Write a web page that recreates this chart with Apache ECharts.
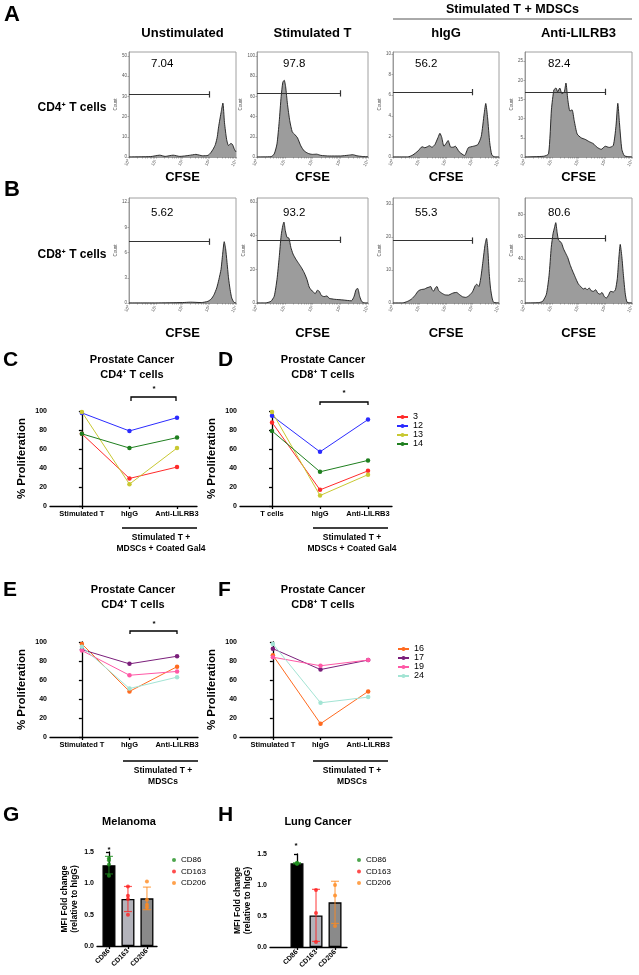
<!DOCTYPE html>
<html>
<head>
<meta charset="utf-8">
<script src="https://cdn.jsdelivr.net/npm/echarts@6/dist/echarts.min.js"></script>
<style>
  html, body { margin: 0; background: #fff; }
  #chart { width: 639px; height: 975px; }
</style>
</head>
<body>
<div id="chart"></div>
<script>
// ---- flow histograms: [log10(CFSE), count] ----
const cd4Unstim = [[0,0],[0.8,0.2],[1.15,0.9],[1.35,0.3],[1.65,0.9],[1.9,0.3],[2.25,0.8],[2.5,1.3],[2.75,0.6],[2.95,0.8],[3.05,2],[3.15,4],[3.23,6.2],[3.3,10],[3.35,15],[3.45,22.6],[3.51,26.7],[3.57,17],[3.65,8.7],[3.72,5.7],[3.81,6.7],[3.87,6.2],[3.94,3.8],[4,2.5]];
const cd4Stim = [[0,0],[0.5,0.3],[0.62,3],[0.72,13],[0.8,35],[0.87,60],[0.93,74],[0.98,76],[1.03,70],[1.1,52],[1.18,36],[1.27,25],[1.37,22],[1.46,19],[1.58,11],[1.7,6],[1.85,3.5],[2.0,2.6],[2.15,2.8],[2.3,1.6],[2.6,1],[3.0,1],[3.3,1.8],[3.45,2.3],[3.6,1.2],[3.8,0.5],[4,0.2]];
const cd4Higg = [[0,0],[0.55,0],[0.75,0.2],[0.95,0.6],[1.1,1.0],[1.2,0.9],[1.3,1.0],[1.37,1.1],[1.47,0.95],[1.58,1.2],[1.7,1.9],[1.77,2.3],[1.84,1.9],[1.92,1.05],[2.0,1.3],[2.08,1.6],[2.18,0.95],[2.27,0.95],[2.35,1.05],[2.5,0.5],[2.7,0.15],[2.84,0.9],[3.04,1.05],[3.2,1.2],[3.33,2.0],[3.44,4.2],[3.5,5.2],[3.57,3.8],[3.65,1.4],[3.73,0.2],[3.85,0],[4,0]];
const cd4Anti = [[0,0],[0.7,0.2],[0.88,0.8],[0.99,12.5],[1.08,17.5],[1.16,18],[1.22,17],[1.3,18],[1.38,16.5],[1.47,17],[1.53,19.3],[1.6,15],[1.68,12],[1.76,12.3],[1.84,9.5],[1.95,6],[2.1,5],[2.25,4.6],[2.4,4],[2.55,3.5],[2.7,2.5],[2.85,2],[3.0,2.8],[3.15,2.5],[3.3,3],[3.4,8],[3.47,14],[3.53,9],[3.62,2],[3.72,0.3],[4,0]];
const cd8Unstim = [[0,0],[1,0],[2,0.05],[2.3,0.1],[2.7,0.05],[2.95,0.2],[3.08,0.5],[3.18,1.0],[3.28,1.8],[3.36,2.8],[3.44,4.0],[3.5,5.8],[3.56,7.3],[3.61,6.5],[3.66,5],[3.72,3],[3.78,1.6],[3.84,0.6],[3.92,0.1],[4,0]];
const cd8Stim = [[0,0],[0.3,0],[0.5,1],[0.62,4],[0.72,14],[0.8,27],[0.87,40],[0.93,46],[0.97,48],[1.02,43],[1.08,39],[1.15,38.5],[1.22,33],[1.3,29],[1.4,26],[1.5,23.5],[1.6,21],[1.7,18],[1.8,14],[1.88,9.5],[1.95,7.8],[2.03,6.5],[2.1,5.6],[2.18,7.6],[2.25,6.8],[2.32,4.5],[2.42,3.8],[2.52,4.2],[2.6,2.8],[2.8,2.2],[3.1,1.8],[3.4,1.3],[3.5,4],[3.57,8],[3.63,8.6],[3.7,4],[3.78,0.8],[3.9,0],[4,0]];
const cd8Higg = [[0,0],[0.35,0],[0.55,0.5],[0.7,1.2],[0.83,2.3],[0.96,3.7],[1.08,4.1],[1.18,4.2],[1.28,4.6],[1.36,4.8],[1.42,5.0],[1.48,4.0],[1.53,3.6],[1.6,4.6],[1.66,5.0],[1.72,3.8],[1.8,3.2],[1.95,2.5],[2.1,2.4],[2.2,2.8],[2.3,3.1],[2.4,3.2],[2.5,2.6],[2.62,1.9],[2.75,1.7],[2.88,2.3],[3.0,3.4],[3.1,5.2],[3.16,5.7],[3.24,5.0],[3.32,8],[3.4,13],[3.47,17.5],[3.53,19.6],[3.58,16],[3.63,9],[3.68,4.5],[3.74,1.5],[3.8,0.2],[4,0]];
const cd8Anti = [[0,0],[0.5,0.3],[0.66,1.5],[0.8,8],[0.9,25],[0.98,50],[1.05,63],[1.1,68],[1.15,72.7],[1.2,64],[1.25,57],[1.3,56],[1.37,54],[1.44,49],[1.52,45],[1.6,41],[1.68,35],[1.76,30],[1.85,25],[1.92,21],[2.0,17],[2.08,15],[2.18,12.7],[2.25,13.5],[2.32,12],[2.4,13.6],[2.48,11],[2.56,10.6],[2.64,12],[2.72,9],[2.8,8],[2.88,9.5],[2.96,6],[3.04,4.5],[3.12,7],[3.2,10.6],[3.3,10],[3.38,12],[3.45,22],[3.5,38],[3.56,53],[3.62,42],[3.68,25],[3.75,8],[3.82,0.6],[4,0]];

const colTitles = ['Unstimulated', 'Stimulated T', 'hIgG', 'Anti-LILRB3'];
const cd4Pct = ['7.04', '97.8', '56.2', '82.4'];
const cd8Pct = ['5.62', '93.2', '55.3', '80.6'];
const cd4Gate = [31, 63, 6.3, 17];
const cd8Gate = [7.3, 37.5, 18.9, 58.5];
const cd4YMax = [52, 104, 10.2, 27.4];
const cd4YStep = [10, 20, 2, 5];
const cd8YMax = [12.5, 62.3, 31.8, 95];
const cd8YStep = [3, 20, 10, 20];
const logTicks = [0, 1, 2, 3, 4];

// ---- % proliferation ----
const catsStim = ['Stimulated T', 'hIgG', 'Anti-LILRB3'];
const catsTcell = ['T cells', 'hIgG', 'Anti-LILRB3'];
const gal4Donors = ['3', '12', '13', '14'];
const cd4Gal4 = [[76, 29, 41], [98, 79, 93], [99, 23, 61], [76, 61, 72]];
const cd8Gal4 = [[88, 17, 37], [95, 57, 91], [99, 11, 33], [79, 36, 48]];
const mdscDonors = ['16', '17', '19', '24'];
const cd4Mdsc = [[98, 48, 74], [92, 77, 85], [91, 65, 69], [95, 51, 63]];
const cd8Mdsc = [[86, 14, 48], [93, 71, 81], [84, 75, 81], [98, 36, 42]];

// ---- MFI fold change ----
const markers = ['CD86', 'CD163', 'CD206'];
const melMean = [1.29, 0.75, 0.76];
const melSd = [0.14, 0.20, 0.18];
const melPoints = [[1.40, 1.37, 1.30, 1.12], [0.95, 0.80, 0.75, 0.50], [1.03, 0.74, 0.66, 0.62]];
const lungMean = [1.35, 0.51, 0.72];
const lungSd = [0.01, 0.42, 0.34];
const lungPoints = [[1.36, 1.35, 1.34], [0.92, 0.55, 0.08], [1.00, 0.83, 0.34]];

// layout
const histX = [[129, 236], [257, 368], [393, 499], [525, 632]];
const pctOffset = [22, 26, 22, 23];
const cd4Y = [52, 157];
const cd8Y = [198, 303];
const FONT = '"Liberation Sans", Arial, "Noto Sans", sans-serif';
const gal4Colors = ['#ff2a2a', '#2b2bff', '#c8c832', '#1f7f1f'];
const mdscColors = ['#ff6a1f', '#7b1f7b', '#ff58a6', '#a3e4d4'];
const markerColors = ['#1f8f1f', '#ff2020', '#ff8a1f'];
const barFill = ['#000000', '#b3b3bb', '#8a8a8a'];

const sup = ['\u2070', '\u00b9', '\u00b2', '\u00b3', '\u2074'];
const minorLog = [];
for (let n = 0; n < 4; n++) for (let k = 1; k < 10; k++) minorLog.push(n + Math.log10(k));
minorLog.push(4);

const grid = [], xAxis = [], yAxis = [], series = [], graphic = [], legend = [];

function txt(x, y, text, size, weight, align) {
  graphic.push({
    type: 'text', silent: true,
    style: {
      x, y, text, fill: '#000',
      font: (weight || 'bold') + ' ' + size + 'px ' + FONT,
      textAlign: align || 'center', textVerticalAlign: 'middle'
    }
  });
}
function seg(points, w, color) {
  graphic.push({
    type: 'polyline', silent: true, shape: { points },
    style: { stroke: color || '#000', lineWidth: w || 1.3, fill: 'none' }
  });
}

function addHist(col, yr, data, gate, ymax, step) {
  const i = grid.length;
  const [x0, x1] = histX[col];
  grid.push({ left: x0, top: yr[0], width: x1 - x0, height: yr[1] - yr[0], show: true, borderColor: '#a0a0a0', borderWidth: 1 });
  const thin = { color: '#777', width: 0.6 };
  xAxis.push({
    gridIndex: i, type: 'value', min: 0, max: 4,
    axisLine: { onZero: false, lineStyle: thin },
    axisTick: { customValues: minorLog, length: 1.5, lineStyle: thin },
    axisLabel: { customValues: logTicks, formatter: v => '10' + sup[v], fontSize: 4.5, color: '#555', rotate: 60, margin: 3 },
    splitLine: { show: false }
  });
  yAxis.push({
    gridIndex: i, type: 'value', min: 0, max: ymax, interval: step,
    axisLine: { show: true, lineStyle: thin },
    axisTick: { show: true, length: 1.5, lineStyle: thin },
    axisLabel: { fontSize: 4.5, color: '#555', margin: 2, showMaxLabel: false },
    splitLine: { show: false },
    name: 'Count', nameLocation: 'middle', nameGap: 10,
    nameTextStyle: { fontSize: 4.5, color: '#555' }
  });
  const tk = ymax * 0.03;
  series.push({
    type: 'line', xAxisIndex: i, yAxisIndex: i, data, symbol: 'none', smooth: 0.2,
    lineStyle: { color: '#1a1a1a', width: 0.9 },
    areaStyle: { color: '#9c9c9c', opacity: 1 },
    markLine: {
      silent: true, symbol: ['none', 'none'], label: { show: false },
      lineStyle: { color: '#333', width: 1.2, type: 'solid' },
      data: [
        [{ coord: [0, gate] }, { coord: [3, gate] }],
        [{ coord: [3, gate - tk] }, { coord: [3, gate + tk] }]
      ]
    }
  });
}

function addLines(rect, xr, cats, rows, names, colors) {
  const i = grid.length;
  grid.push({ left: rect[0], top: rect[1], width: rect[2] - rect[0], height: rect[3] - rect[1] });
  const axisLine = { color: '#000', width: 1.3 };
  xAxis.push({
    gridIndex: i, type: 'value', min: xr[0], max: xr[1],
    axisLine: { onZero: false, lineStyle: axisLine },
    axisTick: { customValues: [0, 1, 2], length: 3, lineStyle: axisLine },
    axisLabel: { customValues: [0, 1, 2], formatter: v => cats[v], fontSize: 7.5, fontWeight: 'bold', color: '#000', margin: 4 },
    splitLine: { show: false }
  });
  yAxis.push({
    gridIndex: i, type: 'value', min: 0, max: 100, interval: 20,
    axisLine: { show: true, lineStyle: axisLine },
    axisTick: { show: true, length: 3, lineStyle: axisLine },
    axisLabel: { fontSize: 7, fontWeight: 'bold', color: '#000', margin: 3 },
    splitLine: { show: false },
    name: '% Proliferation', nameLocation: 'middle', nameGap: 22,
    nameTextStyle: { fontSize: 11.5, fontWeight: 'bold', color: '#000' }
  });
  rows.forEach((vals, k) => series.push({
    name: names[k], type: 'line', xAxisIndex: i, yAxisIndex: i,
    data: vals.map((v, j) => [j, v]), symbol: 'circle', symbolSize: 4.5,
    lineStyle: { color: colors[k], width: 1 }, itemStyle: { color: colors[k] }
  }));
}

function addBars(rect, xr, means, sds, points) {
  const i = grid.length;
  grid.push({ left: rect[0], top: rect[1], width: rect[2] - rect[0], height: rect[3] - rect[1] });
  const axisLine = { color: '#000', width: 1.3 };
  xAxis.push({
    gridIndex: i, type: 'value', min: xr[0], max: xr[1],
    axisLine: { onZero: false, lineStyle: axisLine },
    axisTick: { customValues: [0, 1, 2], length: 3, lineStyle: axisLine },
    axisLabel: { customValues: [0, 1, 2], formatter: v => markers[v], fontSize: 7, fontWeight: 'bold', color: '#000', rotate: 45, margin: 4 },
    splitLine: { show: false }
  });
  yAxis.push({
    gridIndex: i, type: 'value', min: 0, max: 1.5, interval: 0.5,
    axisLine: { show: true, lineStyle: axisLine },
    axisTick: { show: true, length: 3, lineStyle: axisLine },
    axisLabel: { fontSize: 7, fontWeight: 'bold', color: '#000', margin: 3, formatter: v => v.toFixed(1) },
    splitLine: { show: false },
    name: 'MFI Fold change\n(relative to hIgG)', nameLocation: 'middle', nameGap: 17,
    nameTextStyle: { fontSize: 8.5, fontWeight: 'bold', color: '#000', lineHeight: 10 }
  });
  series.push({
    type: 'bar', xAxisIndex: i, yAxisIndex: i, barWidth: 13,
    data: means.map((m, j) => ({ value: [j, m], itemStyle: { color: barFill[j] } })),
    itemStyle: { borderColor: '#000', borderWidth: 1.3 }
  });
  series.push({
    type: 'custom', xAxisIndex: i, yAxisIndex: i, z: 5,
    data: means.map((m, j) => [j, m - sds[j], m + sds[j]]),
    renderItem: (params, api) => {
      const lo = api.coord([api.value(0), api.value(1)]);
      const hi = api.coord([api.value(0), api.value(2)]);
      const st = { stroke: markerColors[params.dataIndex], lineWidth: 1.2, opacity: 0.75 };
      return {
        type: 'group', children: [
          { type: 'line', shape: { x1: lo[0], y1: lo[1], x2: hi[0], y2: hi[1] }, style: st },
          { type: 'line', shape: { x1: hi[0] - 4, y1: hi[1], x2: hi[0] + 4, y2: hi[1] }, style: st },
          { type: 'line', shape: { x1: lo[0] - 4, y1: lo[1], x2: lo[0] + 4, y2: lo[1] }, style: st }
        ]
      };
    }
  });
  points.forEach((pts, j) => series.push({
    name: markers[j], type: 'scatter', xAxisIndex: i, yAxisIndex: i, z: 6,
    data: pts.map(v => [j, v]), symbolSize: 4, itemStyle: { color: markerColors[j] }
  }));
}

// ---- A / B ----
for (let c = 0; c < 4; c++) {
  addHist(c, cd4Y, [cd4Unstim, cd4Stim, cd4Higg, cd4Anti][c], cd4Gate[c], cd4YMax[c], cd4YStep[c]);
  addHist(c, cd8Y, [cd8Unstim, cd8Stim, cd8Higg, cd8Anti][c], cd8Gate[c], cd8YMax[c], cd8YStep[c]);
  const cx = (histX[c][0] + histX[c][1]) / 2;
  txt(cx, 33, colTitles[c], 13);
  txt(cx, 177, 'CFSE', 13);
  txt(cx, 333, 'CFSE', 13);
  txt(histX[c][0] + pctOffset[c], cd4Y[0] + 12, cd4Pct[c], 11.5, 'normal', 'left');
  txt(histX[c][0] + pctOffset[c], cd8Y[0] + 15, cd8Pct[c], 11.5, 'normal', 'left');
}
txt(4, 15, 'A', 22, 'bold', 'left');
txt(4, 190, 'B', 22, 'bold', 'left');
txt((histX[2][0] + histX[3][1]) / 2, 10, 'Stimulated T + MDSCs', 12.5);
seg([[histX[2][0], 19], [histX[3][1], 19]], 1, '#555');
txt(72, 108, 'CD4\u207a T cells', 12);
txt(72, 255, 'CD8\u207a T cells', 12);

// ---- C / D ----
addLines([50, 411, 197, 506], [-0.67, 2.42], catsStim, cd4Gal4, gal4Donors, gal4Colors);
addLines([240, 411, 392, 506], [-0.667, 2.5], catsTcell, cd8Gal4, gal4Donors, gal4Colors);
txt(3, 360, 'C', 21, 'bold', 'left');
txt(218, 360, 'D', 21, 'bold', 'left');
txt(132, 360, 'Prostate Cancer', 11);
txt(132, 375, 'CD4\u207a T cells', 11);
txt(323, 360, 'Prostate Cancer', 11);
txt(323, 375, 'CD8\u207a T cells', 11);
seg([[131, 401], [131, 397], [176, 397], [176, 401]]);
txt(154, 389, '*', 8);
seg([[320, 405], [320, 402], [368, 402], [368, 405]]);
txt(344, 393, '*', 8);
seg([[122, 528], [197, 528]], 1.5);
txt(161, 538, 'Stimulated T +', 8.5);
txt(161, 549, 'MDSCs + Coated Gal4', 8.5);
seg([[313, 528], [388, 528]], 1.5);
txt(352, 538, 'Stimulated T +', 8.5);
txt(352, 549, 'MDSCs + Coated Gal4', 8.5);
legend.push({
  data: gal4Donors, orient: 'vertical', left: 391, top: 407.5,
  itemWidth: 11, itemHeight: 5, itemGap: 0, selectedMode: false,
  textStyle: { fontSize: 9, color: '#000' }
});

// ---- E / F ----
addLines([50, 642, 198, 737], [-0.67, 2.44], catsStim, cd4Mdsc, mdscDonors, mdscColors);
addLines([240, 642, 392, 737], [-0.69, 2.5], catsStim, cd8Mdsc, mdscDonors, mdscColors);
txt(3, 590, 'E', 21, 'bold', 'left');
txt(218, 590, 'F', 21, 'bold', 'left');
txt(133, 590, 'Prostate Cancer', 11);
txt(133, 605, 'CD4\u207a T cells', 11);
txt(323, 590, 'Prostate Cancer', 11);
txt(323, 605, 'CD8\u207a T cells', 11);
seg([[130, 634], [130, 631], [177, 631], [177, 634]]);
txt(154, 624, '*', 8);
seg([[123, 761], [198, 761]], 1.5);
txt(163, 771, 'Stimulated T +', 8.5);
txt(163, 782, 'MDSCs', 8.5);
seg([[313, 761], [388, 761]], 1.5);
txt(352, 771, 'Stimulated T +', 8.5);
txt(352, 782, 'MDSCs', 8.5);
legend.push({
  data: mdscDonors, orient: 'vertical', left: 392, top: 639.5,
  itemWidth: 11, itemHeight: 5, itemGap: 0, selectedMode: false,
  textStyle: { fontSize: 9, color: '#000' }
});

// ---- G / H ----
addBars([97, 852, 157, 946], [-0.63, 2.53], melMean, melSd, melPoints);
addBars([270, 854, 347, 947], [-1.42, 2.63], lungMean, lungSd, lungPoints);
txt(3, 815, 'G', 21, 'bold', 'left');
txt(218, 815, 'H', 21, 'bold', 'left');
txt(129, 822, 'Melanoma', 11);
txt(318, 822, 'Lung Cancer', 11);
txt(109, 850, '*', 8);
txt(296, 846, '*', 8);
legend.push({
  data: markers, orient: 'vertical', left: 167, top: 851,
  icon: 'circle', itemWidth: 4, itemHeight: 4, itemGap: 3.5, selectedMode: false,
  textStyle: { fontSize: 8, color: '#000' }
});
legend.push({
  data: markers, orient: 'vertical', left: 352, top: 851,
  icon: 'circle', itemWidth: 4, itemHeight: 4, itemGap: 3.5, selectedMode: false,
  textStyle: { fontSize: 8, color: '#000' }
});

const chart = echarts.init(document.getElementById('chart'));
chart.setOption({
  animation: false,
  backgroundColor: '#fff',
  textStyle: { fontFamily: FONT },
  grid, xAxis, yAxis, series, legend, graphic
});
</script>
</body>
</html>
